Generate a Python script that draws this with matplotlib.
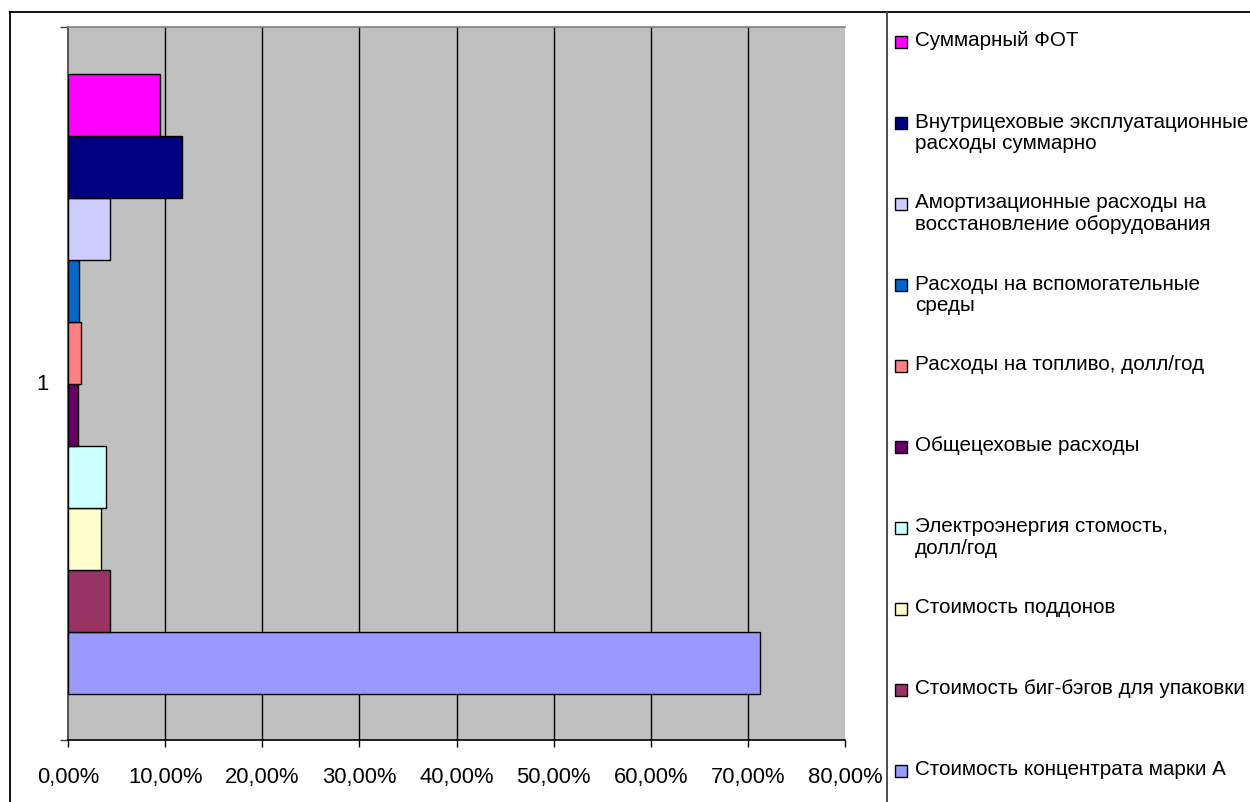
import matplotlib.pyplot as plt
from matplotlib.patches import Rectangle
from matplotlib.lines import Line2D
from matplotlib.ticker import FuncFormatter
import numpy as np

plt.rcParams['font.family'] = ['Liberation Sans', 'DejaVu Sans']

# статьи затрат (снизу вверх, как идут ряды)
labels = [
    'Стоимость концентрата марки А',
    'Стоимость биг-бэгов для упаковки',
    'Стоимость поддонов',
    'Электроэнергия стомость,\nдолл/год',
    'Общецеховые расходы',
    'Расходы на топливо, долл/год',
    'Расходы на вспомогательные\nсреды',
    'Амортизационные расходы на\nвосстановление оборудования',
    'Внутрицеховые эксплуатационные\nрасходы суммарно',
    'Суммарный ФОТ',
]
shares = [0.7127, 0.0436, 0.0343, 0.0390, 0.0106, 0.0134, 0.0117, 0.0433, 0.1170, 0.0947]
colors = ['#9999FF', '#993366', '#FFFFCC', '#CCFFFF', '#660066',
          '#FF8080', '#0066CC', '#CCCCFF', '#000080', '#FF00FF']
category = '1'

W, H = 1250, 803
fig = plt.figure(figsize=(W / 100, H / 100), dpi=100)
fs_axis = 15.8
fs_leg = 14.9

L, R, T, B = 68, 845, 28, 741
ax = fig.add_axes([L / W, 1 - B / H, (R - L) / W, (B - T) / H])
ax.set_facecolor('#C0C0C0')

n = len(shares)
h = 1 / (n + 1.5)
y = 1 - n * h / 2 + (np.arange(n) + 0.5) * h
ax.barh(y, shares, height=h, color=colors, edgecolor='black', linewidth=1.0, zorder=3)

ax.set_xlim(0, 0.8)
ax.set_ylim(0.5, 1.5)
ax.set_xticks(np.arange(0, 0.81, 0.1))
ax.xaxis.set_major_formatter(FuncFormatter(lambda v, p: f'{v * 100:.2f}%'.replace('.', ',')))
ax.tick_params(axis='x', direction='out', length=5, width=1, pad=14, labelsize=fs_axis)
ax.grid(axis='x', color='black', linewidth=1.0, zorder=1)
gl = ax.xaxis.get_gridlines()
gl[0].set_visible(False)
gl[-1].set_visible(False)

ax.set_yticks([0.5, 1.5])
ax.set_yticklabels([])
ax.tick_params(axis='y', direction='out', length=6, width=1, color='#404040')
ax.text((43 - L) / (R - L), 1, category, transform=ax.get_yaxis_transform(),
        fontsize=fs_axis, ha='center', va='center')

ax.spines['right'].set_visible(False)
ax.spines['top'].set_color('#808080')
ax.spines['left'].set_color('#404040')
ax.spines['bottom'].set_color('black')
for s in ax.spines.values():
    s.set_linewidth(1.2)

# рамка диаграммы и разделитель легенды
def px(x, yy):
    return x / W, 1 - yy / H

for (x0, y0), (x1, y1), c in [((10, 13), (W, 13), 'black'),
                              ((10, 13), (10, H), 'black'),
                              ((887, 13), (887, H), '#404040')]:
    a, b = px(x0, y0)
    c2, d = px(x1, y1)
    fig.add_artist(Line2D([a, c2], [b, d], color=c, linewidth=1.3,
                          transform=fig.transFigure))

# легенда: сверху вниз в обратном порядке рядов
for i, k in enumerate(range(n - 1, -1, -1)):
    yc = 43 + i * 81
    fig.add_artist(Rectangle(px(895, yc + 6), 12 / W, 12 / H,
                             facecolor=colors[k], edgecolor='black',
                             linewidth=1.0, transform=fig.transFigure))
    tx, ty = px(915, yc - 11.5)
    fig.text(tx, ty, labels[k], fontsize=fs_leg, ha='left', va='top',
             linespacing=1.18)

fig.savefig('out.png', dpi=100)
